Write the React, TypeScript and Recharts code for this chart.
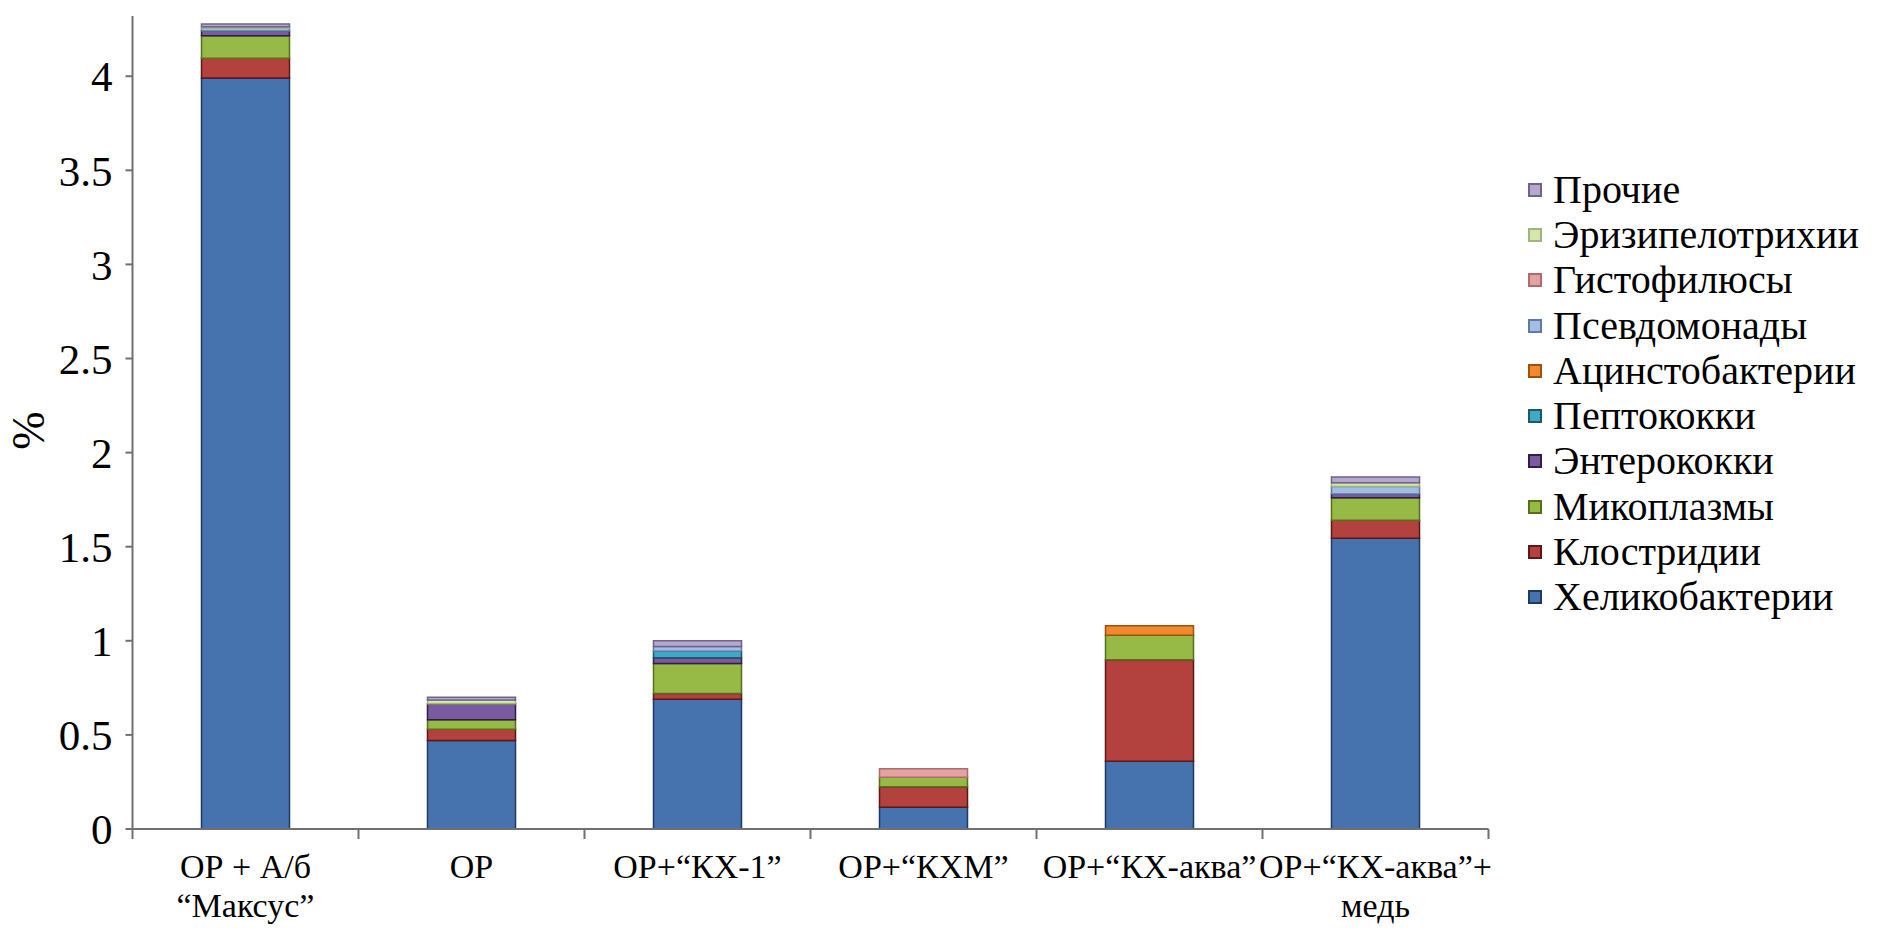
import { Bar, BarChart, XAxis, YAxis } from "recharts";

// category labels, split into lines
const categories = ["c1", "c2", "c3", "c4", "c5", "c6"];
const categoryLines = [
  ["ОР + А/б", "“Максус”"],
  ["ОР"],
  ["ОР+“КХ-1”"],
  ["ОР+“КХМ”"],
  ["ОР+“КХ-аква”"],
  ["ОР+“КХ-аква”+", "медь"],
];

// series values (%), bottom of the stack first
const helico = [3.99, 0.47, 0.69, 0.115, 0.36, 1.545];
const clost = [0.105, 0.06, 0.03, 0.11, 0.54, 0.095];
const myco = [0.12, 0.05, 0.16, 0.05, 0.13, 0.12];
const entero = [0.025, 0.085, 0.03, 0, 0, 0.02];
const pepto = [0, 0, 0.035, 0, 0, 0];
const acinsto = [0, 0, 0, 0, 0.05, 0];
const pseudo = [0.015, 0, 0.025, 0, 0, 0.04];
const histo = [0, 0, 0, 0.045, 0, 0];
const erysip = [0.008, 0.02, 0, 0, 0, 0.02];
const other = [0.015, 0.015, 0.03, 0, 0, 0.03];

const yTicks = [0, 0.5, 1, 1.5, 2, 2.5, 3, 3.5, 4];

const series = [
  { key: "helico", label: "Хеликобактерии", data: helico, color: "#4672ae", edge: "#1f3a66" },
  { key: "clost", label: "Клостридии", data: clost, color: "#b3423f", edge: "#5e1715" },
  { key: "myco", label: "Микоплазмы", data: myco, color: "#97b946", edge: "#56701c" },
  { key: "entero", label: "Энтерококки", data: entero, color: "#7a5ba0", edge: "#2e1f4a" },
  { key: "pepto", label: "Пептококки", data: pepto, color: "#3fa9c4", edge: "#1b5a6a" },
  { key: "acinsto", label: "Ацинстобактерии", data: acinsto, color: "#f08a2e", edge: "#a14f0b" },
  { key: "pseudo", label: "Псевдомонады", data: pseudo, color: "#a3bde3", edge: "#5d7aa8" },
  { key: "histo", label: "Гистофилюсы", data: histo, color: "#e3a3a2", edge: "#b06a69" },
  { key: "erysip", label: "Эризипелотрихии", data: erysip, color: "#d4e5b0", edge: "#9fb57a" },
  { key: "other", label: "Прочие", data: other, color: "#b5a8cf", edge: "#6f6388" },
];

const chartData = categories.map((c, i) => {
  const row: Record<string, number | string> = { name: c, i };
  for (const s of series) row[s.key] = s.data[i];
  return row;
});

const W = 1889;
const H = 933;
const PLOT_LEFT = 132.5;
const PLOT_RIGHT = 1488.5;
const BAND = (PLOT_RIGHT - PLOT_LEFT) / categories.length;
const FONT = "'Liberation Serif', 'Times New Roman', serif";
const AXIS = "#707070";

function CategoryTick({ x, y, index }: any) {
  const lines = categoryLines[index] ?? [];
  return (
    <g>
      <line x1={x - BAND / 2} x2={x - BAND / 2} y1={y} y2={y + 10} stroke={AXIS} strokeWidth={2} />
      {index === categories.length - 1 && (
        <line x1={x + BAND / 2} x2={x + BAND / 2} y1={y} y2={y + 10} stroke={AXIS} strokeWidth={2} />
      )}
      {lines.map((l, k) => (
        <text
          key={k}
          x={x}
          y={y + 49 + k * 39}
          textAnchor="middle"
          fontFamily={FONT}
          fontSize={34}
          fill="#000"
        >
          {l}
        </text>
      ))}
    </g>
  );
}

function LegendBox() {
  return (
    <div
      style={{
        position: "absolute",
        left: 1528,
        top: 167,
        fontFamily: FONT,
        fontSize: 40,
        color: "#000",
      }}
    >
      {[...series].reverse().map((s) => (
        <div key={s.key} style={{ display: "flex", alignItems: "center", height: 45.3 }}>
          <span
            style={{
              width: 10,
              height: 10,
              background: s.color,
              border: `2px solid ${s.edge}`,
              marginRight: 11,
              flexShrink: 0,
            }}
          />
          <span style={{ lineHeight: 1, whiteSpace: "nowrap" }}>{s.label}</span>
        </div>
      ))}
    </div>
  );
}

export default function App() {
  return (
    <div style={{ position: "absolute", left: 0, top: 0, width: W, height: H, background: "#fff" }}>
      <BarChart
        width={W}
        height={H}
        data={chartData}
        margin={{ top: 16, right: W - PLOT_RIGHT, left: 0, bottom: 0 }}
        accessibilityLayer={false}
      >
        <XAxis
          dataKey="name"
          height={H - 829}
          axisLine={{ stroke: AXIS, strokeWidth: 2 }}
          tickLine={false}
          tickSize={0}
          tickMargin={0}
          interval={0}
          tick={<CategoryTick />}
        />
        <YAxis
          width={PLOT_LEFT}
          domain={[0, 4.32]}
          ticks={yTicks}
          axisLine={{ stroke: AXIS, strokeWidth: 2 }}
          tickLine={{ stroke: AXIS, strokeWidth: 2 }}
          tickSize={7}
          tickMargin={13}
          tick={{ fontFamily: FONT, fontSize: 43, fill: "#000" }}
          label={{
            content: ({ viewBox }: any) => (
              <text
                x={0}
                y={0}
                transform={`translate(44,${viewBox.y + viewBox.height / 2 + 8}) rotate(-90)`}
                textAnchor="middle"
                fontFamily={FONT}
                fontSize={46}
                fill="#000"
              >
                %
              </text>
            ),
          }}
        />
        {series.map((s) => (
          <Bar
            key={s.key}
            dataKey={s.key}
            stackId="a"
            barSize={88}
            fill={s.color}
            stroke={s.edge}
            strokeWidth={1.5}
            isAnimationActive={false}
          />
        ))}
      </BarChart>
      <LegendBox />
    </div>
  );
}
